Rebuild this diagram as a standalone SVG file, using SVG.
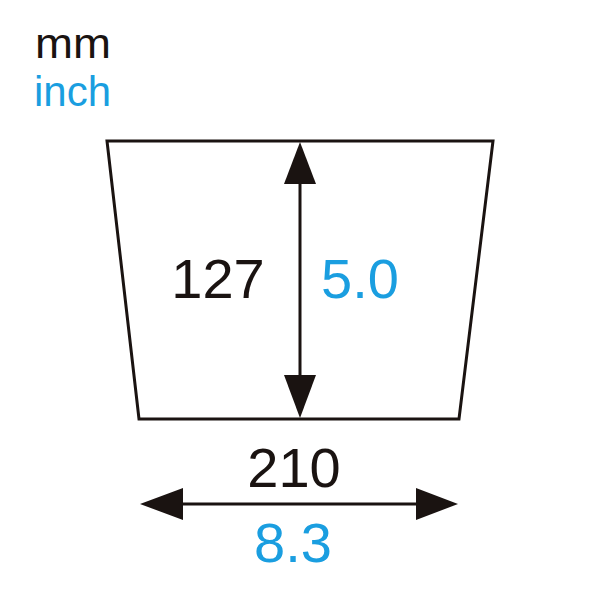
<svg xmlns="http://www.w3.org/2000/svg" width="600" height="600" viewBox="0 0 600 600">
<style>
.t{font-family:"Liberation Sans",Arial,sans-serif}
.k{fill:#1a1311}
.b{fill:#1a9ee0}
.ln{stroke:#1a1311;stroke-width:3;fill:none}
.ah{fill:#1a1311}
</style>
<rect width="600" height="600" fill="#fff"/>
<g id="legend">
<text class="t k" x="35" y="58" font-size="43" textLength="76" lengthAdjust="spacingAndGlyphs">mm</text>
<text class="t b" x="34" y="106" font-size="42">inch</text>
</g>
<g id="shape">
<polygon class="ln" points="107,141 493,141 459,419 139,419"/>
</g>
<g id="connectors">
<line class="ln" x1="300" y1="170" x2="300" y2="390"/>
<polygon class="ah" points="300,142 316,184 284,184"/>
<polygon class="ah" points="300,418 316,375 284,375"/>
<line class="ln" x1="170" y1="504" x2="430" y2="504"/>
<polygon class="ah" points="140,504 183,488 183,520"/>
<polygon class="ah" points="458,504 416,488 416,520"/>
</g>
<g id="labels">
<text class="t k" x="218" y="298" font-size="56" text-anchor="middle">127</text>
<text class="t b" x="360" y="298" font-size="56" text-anchor="middle">5.0</text>
<text class="t k" x="294" y="487" font-size="56" text-anchor="middle">210</text>
<text class="t b" x="293" y="562" font-size="56" text-anchor="middle">8.3</text>
</g>
</svg>
